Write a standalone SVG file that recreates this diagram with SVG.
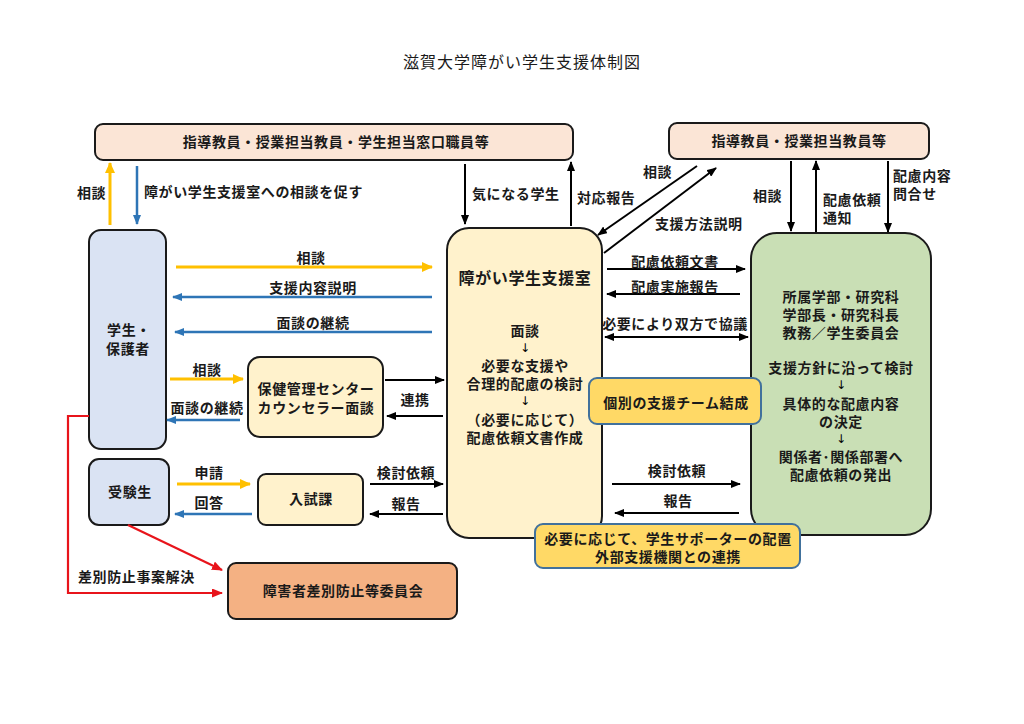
<svg xmlns="http://www.w3.org/2000/svg" width="1024" height="724" viewBox="0 0 1024 724">
<defs>
<style>
text{font-family:"Noto Sans CJK JP","Noto Sans CJK SC",sans-serif;font-size:14px;font-weight:bold;fill:#1a1a1a;letter-spacing:0.6px}
.c{text-anchor:middle}
.title{font-size:16px;font-weight:normal;letter-spacing:1px}
.big{font-size:16px}
.ar{font-family:"DejaVu Sans",sans-serif;font-size:12px;font-weight:normal;letter-spacing:0;fill:#000}
.box{stroke:#1a1a1a;stroke-width:2}
.gold{fill:#FFD966;stroke:#41719C;stroke-width:2}
.k{stroke:#000;stroke-width:2;fill:none}
.y{stroke:#FFC000;stroke-width:3;fill:none}
.b{stroke:#2E75B6;stroke-width:2.5;fill:none}
.r{stroke:#E8141B;stroke-width:2.2;fill:none}
</style>
<marker id="ak" markerUnits="userSpaceOnUse" markerWidth="10" markerHeight="8" refX="9" refY="4" orient="auto-start-reverse"><path d="M0,0 L10,4 L0,8 z" fill="#000"/></marker>
<marker id="ay" markerUnits="userSpaceOnUse" markerWidth="11" markerHeight="10" refX="10" refY="5" orient="auto-start-reverse"><path d="M0,0 L11,5 L0,10 z" fill="#FFC000"/></marker>
<marker id="ab" markerUnits="userSpaceOnUse" markerWidth="10" markerHeight="8" refX="9" refY="4" orient="auto-start-reverse"><path d="M0,0 L10,4 L0,8 z" fill="#2E75B6"/></marker>
<marker id="ar" markerUnits="userSpaceOnUse" markerWidth="11" markerHeight="9" refX="10" refY="4.5" orient="auto-start-reverse"><path d="M0,0 L11,4.5 L0,9 z" fill="#E8141B"/></marker>
</defs>
<rect width="1024" height="724" fill="#fff"/>
<text class="title c" x="522" y="68">滋賀大学障がい学生支援体制図</text>

<g id="top-left">
<rect class="box" x="95" y="124" width="478" height="36" rx="8" fill="#FBE5D6"/>
<text class="c" x="336" y="147">指導教員・授業担当教員・学生担当窓口職員等</text>
</g>
<g id="top-right">
<rect class="box" x="669" y="123" width="260" height="36" rx="8" fill="#FBE5D6"/>
<text class="c" x="799" y="146">指導教員・授業担当教員等</text>
</g>
<g id="student">
<rect class="box" x="89" y="230" width="77" height="219" rx="12" fill="#DAE3F3"/>
<text class="c" x="129" y="335">学生・</text>
<text class="c" x="128" y="354">保護者</text>
</g>
<g id="support-office">
<rect class="box" x="447" y="228" width="155" height="310" rx="22" fill="#FFF2CC"/>
<text class="c big" x="525" y="284">障がい学生支援室</text>
<text class="c" x="525" y="336">面談</text>
<text class="c ar" x="525" y="351.5">↓</text>
<text class="c" x="525" y="371">必要な支援や</text>
<text class="c" x="525" y="389">合理的配慮の検討</text>
<text class="c ar" x="525" y="405">↓</text>
<text class="c" x="525" y="425">（必要に応じて）</text>
<text class="c" x="525" y="443">配慮依頼文書作成</text>
</g>
<g id="faculty">
<rect class="box" x="751" y="233" width="180" height="302" rx="26" fill="#C9DFB5"/>
<text class="c" x="841" y="302">所属学部・研究科</text>
<text class="c" x="841" y="320">学部長・研究科長</text>
<text class="c" x="841" y="338">教務／学生委員会</text>
<text class="c" x="841" y="373">支援方針に沿って検討</text>
<text class="c ar" x="841" y="389">↓</text>
<text class="c" x="841" y="409">具体的な配慮内容</text>
<text class="c" x="841" y="427">の決定</text>
<text class="c ar" x="841" y="442.5">↓</text>
<text class="c" x="841" y="462">関係者･関係部署へ</text>
<text class="c" x="841" y="480">配慮依頼の発出</text>
</g>
<g id="health-center">
<rect class="box" x="248" y="357" width="135" height="80" rx="12" fill="#FFF2CC"/>
<text class="c" x="316" y="394">保健管理センター</text>
<text class="c" x="316" y="413">カウンセラー面談</text>
</g>
<g id="applicant">
<rect class="box" x="89" y="459" width="80" height="66" rx="10" fill="#DAE3F3"/>
<text class="c" x="130" y="497">受験生</text>
</g>
<g id="admissions">
<rect class="box" x="258" y="474" width="105" height="51" rx="8" fill="#FFF2CC"/>
<text class="c" x="311" y="504">入試課</text>
</g>
<g id="team">
<rect class="gold" x="589" y="378" width="172" height="46" rx="8"/>
<text class="c" x="676" y="408">個別の支援チーム結成</text>
</g>
<g id="supporter">
<rect class="gold" x="535" y="524" width="265" height="44" rx="8"/>
<text class="c" x="668" y="544">必要に応じて、学生サポーターの配置</text>
<text class="c" x="668" y="562">外部支援機関との連携</text>
</g>
<g id="committee">
<rect class="box" x="228" y="563" width="229" height="56" rx="8" fill="#F4B183"/>
<text class="c" x="343" y="596">障害者差別防止等委員会</text>
</g>

<g id="connectors">
<line class="y" x1="110" y1="225" x2="110" y2="163" marker-end="url(#ay)"/>
<line class="b" x1="137" y1="166" x2="137" y2="224" marker-end="url(#ab)"/>
<line class="k" x1="465" y1="164" x2="465" y2="224" marker-end="url(#ak)"/>
<line class="k" x1="571" y1="226" x2="571" y2="162" marker-end="url(#ak)"/>
<line class="k" x1="697" y1="166" x2="598" y2="235" marker-end="url(#ak)"/>
<line class="k" x1="604" y1="253" x2="716" y2="168" marker-end="url(#ak)"/>
<line class="k" x1="791" y1="161" x2="791" y2="231" marker-end="url(#ak)"/>
<line class="k" x1="816" y1="232" x2="816" y2="161" marker-end="url(#ak)"/>
<line class="k" x1="888" y1="161" x2="888" y2="232" marker-end="url(#ak)"/>

<line class="y" x1="176" y1="267" x2="432" y2="267" marker-end="url(#ay)"/>
<line class="b" x1="432" y1="297" x2="173" y2="297" marker-end="url(#ab)"/>
<line class="b" x1="432" y1="332" x2="175" y2="332" marker-end="url(#ab)"/>
<line class="y" x1="170" y1="379" x2="243" y2="379" marker-end="url(#ay)"/>
<line class="b" x1="240" y1="420" x2="167" y2="420" marker-end="url(#ab)"/>
<line class="k" x1="385" y1="380" x2="444" y2="380" marker-end="url(#ak)"/>
<line class="k" x1="443" y1="416" x2="387" y2="416" marker-end="url(#ak)"/>

<line class="y" x1="177" y1="484" x2="250" y2="484" marker-end="url(#ay)"/>
<line class="b" x1="252" y1="514" x2="175" y2="514" marker-end="url(#ab)"/>
<line class="k" x1="370" y1="484" x2="443" y2="484" marker-end="url(#ak)"/>
<line class="k" x1="443" y1="514" x2="370" y2="514" marker-end="url(#ak)"/>

<line class="k" x1="607" y1="269" x2="745" y2="269" marker-end="url(#ak)"/>
<line class="k" x1="740" y1="294" x2="607" y2="294" marker-end="url(#ak)"/>
<line class="k" x1="605" y1="337" x2="748" y2="337" marker-start="url(#ak)" marker-end="url(#ak)"/>
<line class="k" x1="612" y1="484" x2="740" y2="484" marker-end="url(#ak)"/>
<line class="k" x1="739" y1="513" x2="615" y2="513" marker-end="url(#ak)"/>

<polyline class="r" points="89,416 68,416 68,593 222,593" marker-end="url(#ar)"/>
<line class="r" x1="128" y1="525" x2="222" y2="570" marker-end="url(#ar)"/>
</g>

<g id="labels">
<text x="77" y="198">相談</text>
<text x="144" y="197">障がい学生支援室への相談を促す</text>
<text x="472" y="199">気になる学生</text>
<text x="577" y="203">対応報告</text>
<text x="643" y="177">相談</text>
<text x="655" y="229">支援方法説明</text>
<text x="753" y="201">相談</text>
<text x="823" y="205">配慮依頼</text>
<text x="823" y="223">通知</text>
<text x="893" y="181">配慮内容</text>
<text x="893" y="199">問合せ</text>
<text class="c" x="311" y="263">相談</text>
<text class="c" x="313" y="293">支援内容説明</text>
<text class="c" x="313" y="328">面談の継続</text>
<text class="c" x="207" y="375">相談</text>
<text class="c" x="207" y="413">面談の継続</text>
<text class="c" x="415" y="405">連携</text>
<text class="c" x="209" y="478">申請</text>
<text class="c" x="209" y="508">回答</text>
<text class="c" x="406" y="478">検討依頼</text>
<text class="c" x="406" y="509">報告</text>
<text class="c" x="675" y="267">配慮依頼文書</text>
<text class="c" x="675" y="292">配慮実施報告</text>
<text class="c" x="675" y="329">必要により双方で協議</text>
<text class="c" x="677" y="476">検討依頼</text>
<text class="c" x="678" y="506">報告</text>
<text x="78" y="582">差別防止事案解決</text>
</g>
</svg>
